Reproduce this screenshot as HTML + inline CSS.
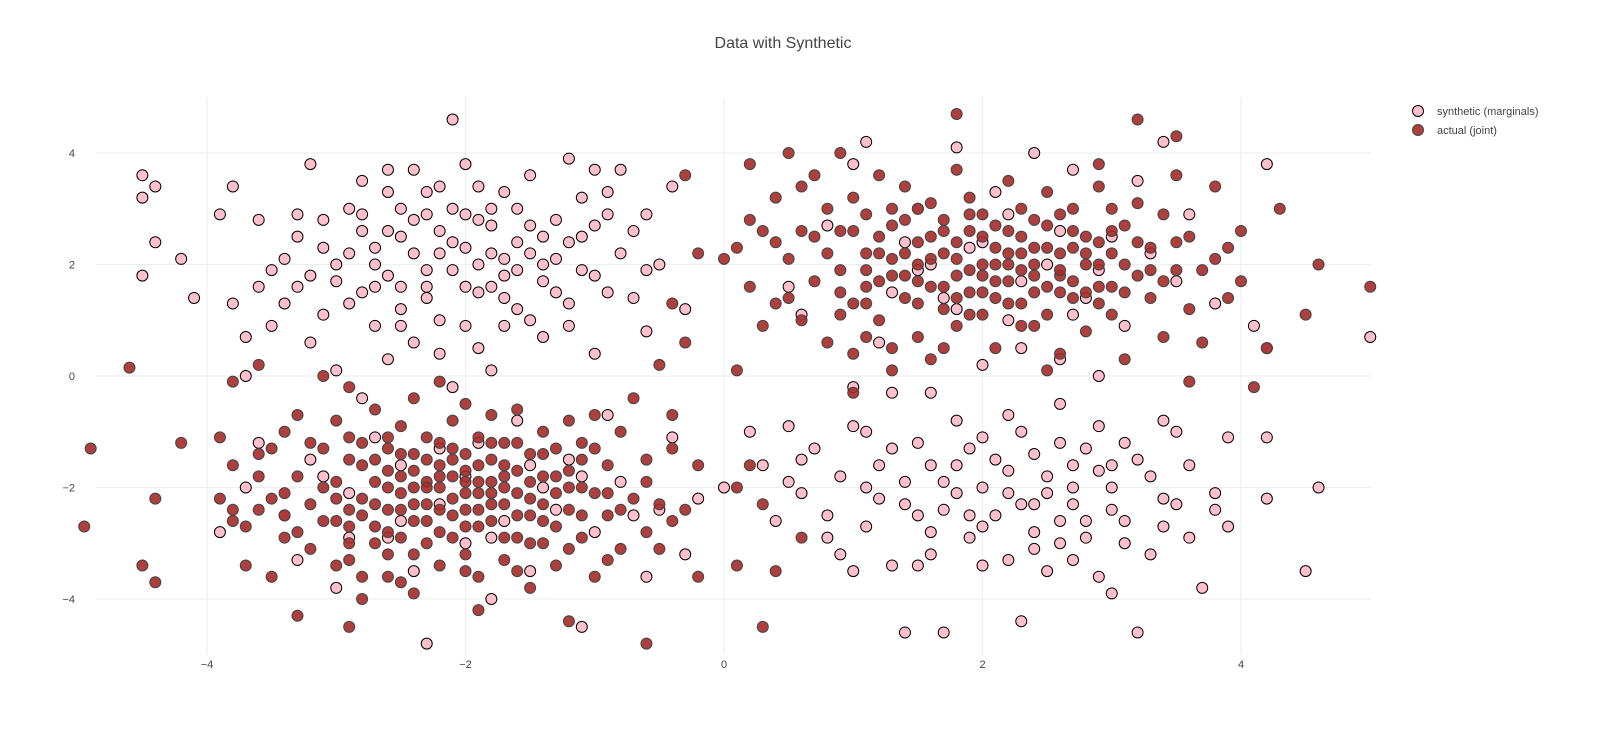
<!DOCTYPE html>
<html><head><meta charset="utf-8"><style>
body{margin:0;background:#fff;font-family:"Liberation Sans",sans-serif;}
svg{display:block}
</style></head><body>
<svg id="chart" width="1620" height="756">
<text x="783" y="48" text-anchor="middle" font-size="16" fill="#444">Data with Synthetic</text>
<g id="grid"></g>
<g id="syn"></g>
<g id="act"></g>
<g>
<g><circle cx="1418" cy="111" r="5.5" fill="#ffc0cb" stroke="#000" stroke-width="1"/><text x="1437" y="115" font-size="11" fill="#444">synthetic (marginals)</text></g>
<g><circle cx="1418" cy="130" r="5.5" fill="#a52a2a" fill-opacity="0.9" stroke="#444" stroke-width="1"/><text x="1437" y="134" font-size="11" fill="#444">actual (joint)</text></g>
</g>
</svg>
<script>
const xTicks=[-4,-2,0,2,4];
const yTicks=[-4,-2,0,2,4];
const synPts=[[-4.5,3.6],[-4.5,3.2],[-4.4,3.4],[-4.5,1.8],[-4.4,2.4],[-4.2,2.1],[-4.1,1.4],[-3.9,2.9],[-3.8,3.4],[-3.8,1.3],[-3.7,0.7],[-3.7,0.0],[-3.5,1.9],[-3.4,1.3],[-3.3,2.9],[-3.2,3.8],[-3.1,2.3],[-3.0,1.7],[-2.9,3.0],[-2.8,2.6],[-2.8,1.5],[-2.7,0.9],[-2.6,3.3],[-2.5,2.5],[-2.5,1.6],[-2.4,3.7],[-2.3,2.9],[-2.3,1.9],[-2.2,3.4],[-2.2,1.0],[-2.1,4.6],[-2.1,2.4],[-2.0,3.8],[-2.0,1.6],[-1.9,2.8],[-1.9,0.5],[-1.8,2.2],[-1.7,3.3],[-1.6,1.2],[-1.5,2.7],[-1.5,3.6],[-1.4,2.0],[-1.3,1.5],[-1.2,3.9],[-1.1,2.5],[-1.0,1.8],[-0.9,3.3],[-0.8,2.2],[-0.7,1.4],[-0.6,0.8],[-0.5,2.0],[-0.4,3.4],[-0.3,1.2],[-2.6,0.3],[-3.0,0.1],[-1.8,0.1],[-1.4,0.7],[-2.4,0.6],[-3.5,0.9],[-1.0,0.4],[-2.2,2.2],[-2.7,2.0],[-1.6,2.4],[-2.0,2.9],[-3.2,1.8],[-2.9,2.2],[-1.9,1.5],[-2.5,3.0],[-1.3,2.8],[-3.6,2.8],[-1.1,3.2],[-2.3,1.4],[-0.8,3.7],[-3.3,2.5],[-1.7,1.8],[-0.9,2.9],[-2.8,3.5],[-1.5,1.0],[-2.0,0.9],[-3.1,1.1],
[-3.4,2.1],[-3.3,1.6],[-3.1,2.8],[-3.0,2.0],[-2.9,1.3],[-2.8,2.9],[-2.7,2.3],[-2.6,1.8],[-2.6,2.6],[-2.5,1.2],[-2.4,2.2],[-2.4,2.8],[-2.3,1.6],[-2.3,3.3],[-2.2,2.6],[-2.1,1.9],[-2.1,3.0],[-2.0,2.3],[-1.9,2.0],[-1.9,3.4],[-1.8,1.6],[-1.8,2.7],[-1.7,2.1],[-1.7,1.4],[-1.6,3.0],[-1.6,1.9],[-1.5,2.2],[-1.4,1.7],[-1.4,2.5],[-1.3,2.1],[-1.2,1.3],[-1.2,2.4],[-1.1,1.9],[-1.0,2.7],[-0.9,1.5],[-0.7,2.6],[-0.6,1.9],[-2.7,1.6],[-3.6,1.6],[-2.2,0.4],[-1.7,0.9],[-1.2,0.9],[-2.5,0.9],[-3.2,0.6],[-0.6,2.9],[-1.0,3.7],[-2.6,3.7],[-1.8,3.0],
[0.2,-1.0],[0.3,-1.6],[0.4,-2.6],[0.5,-0.9],[0.6,-2.1],[0.7,-1.3],[0.8,-2.9],[0.9,-1.8],[1.0,-0.9],[1.1,-2.7],[1.2,-1.6],[1.3,-3.4],[1.4,-2.3],[1.5,-1.2],[1.6,-2.8],[1.7,-4.6],[1.7,-1.9],[1.8,-0.8],[1.9,-2.5],[2.0,-3.4],[2.1,-1.5],[2.2,-2.1],[2.3,-4.4],[2.3,-1.0],[2.4,-2.8],[2.5,-1.8],[2.6,-3.0],[2.7,-2.3],[2.8,-1.3],[2.9,-3.6],[3.0,-2.0],[3.1,-2.6],[3.2,-4.6],[3.2,-1.5],[3.3,-3.2],[3.4,-2.2],[3.5,-1.0],[3.6,-2.9],[3.7,-3.8],[3.8,-2.1],[3.9,-1.1],[4.2,-2.2],[4.5,-3.5],[4.6,-2.0],[3.9,-2.7],[1.4,-4.6],[1.5,-3.4],[0.9,-3.2],[2.0,-2.7],[2.2,-0.7],[2.6,-0.5],[1.9,-1.3],[2.9,-0.9],[1.2,-2.2],[3.0,-1.6],[1.6,-1.6],[2.4,-2.3],[2.7,-1.6],[1.8,-2.1],[3.4,-0.8],[2.5,-3.5],[0.6,-1.5],[1.1,-1.0],[2.8,-2.6],
[1.4,-1.9],[1.5,-2.5],[1.7,-2.4],[1.8,-1.6],[1.9,-2.9],[2.0,-2.0],[2.1,-2.5],[2.2,-1.7],[2.3,-2.3],[2.4,-1.4],[2.4,-3.1],[2.5,-2.1],[2.6,-1.2],[2.6,-2.6],[2.7,-2.0],[2.8,-2.9],[2.9,-1.7],[3.0,-2.4],[3.1,-1.2],[3.1,-3.0],[3.3,-1.8],[3.4,-2.7],[3.5,-2.3],[3.6,-1.6],[1.1,-2.0],[0.8,-2.5],[1.3,-1.3],[2.0,-1.1],[2.7,-3.3],[3.0,-3.9],[1.6,-3.2],[2.2,-3.3],[3.8,-2.4],[4.2,-1.1],[0.5,-1.9],[1.0,-3.5]];
const synPts2=[[-3.9,-2.8],[-3.7,-2.0],[-3.6,-1.2],[-3.4,-2.5],[-3.2,-1.5],[-3.0,-3.8],[-2.9,-2.1],[-2.8,-0.4],[-2.6,-2.9],[-2.5,-1.6],[-2.3,-4.8],[-2.2,-2.3],[-2.1,-0.2],[-2.0,-3.0],[-1.9,-1.2],[-1.7,-2.6],[-1.6,-0.8],[-1.5,-3.5],[-1.4,-2.0],[-1.2,-1.5],[-1.1,-4.5],[-1.0,-2.8],[-0.9,-0.7],[-0.8,-1.9],[-0.6,-3.6],[-0.5,-2.4],[-0.4,-1.1],[-0.3,-3.2],[-0.2,-2.2],[0.0,-2.0],[-2.4,-3.5],[-1.8,-4.0],[-3.3,-3.3],[-2.7,-1.1],[-2.5,-2.6],[-2.0,-1.8],[-1.8,-2.9],[-1.5,-1.6],[-1.3,-2.4],[-2.9,-2.9],[-3.1,-1.8],[-2.2,-1.3],[-1.1,-1.8],[-0.7,-2.5],
[0.5,1.6],[0.6,1.1],[0.8,2.7],[1.0,3.8],[1.1,4.2],[1.2,0.6],[1.4,2.4],[1.5,3.0],[1.7,1.4],[1.8,4.1],[1.9,2.3],[2.0,0.2],[2.1,3.3],[2.2,1.0],[2.4,4.0],[2.5,2.0],[2.6,0.3],[2.7,3.7],[2.8,1.4],[3.0,2.5],[3.1,0.9],[3.2,3.5],[3.4,4.2],[3.5,1.7],[3.6,2.9],[3.8,1.3],[4.1,0.9],[4.2,0.5],[4.2,3.8],[5.0,0.7],[1.3,-0.3],[1.6,-0.3],[2.3,0.5],[2.9,0.0],[1.0,-0.2],[1.5,1.9],[1.8,1.2],[2.0,2.4],[2.3,1.7],[2.6,2.6],[2.9,1.9],[1.6,2.0],[2.2,2.9],[1.3,1.5],[3.3,2.2],[2.7,1.1]];
const actPts=[[-4.9,-1.3],[-4.95,-2.7],[-4.6,0.15],[-4.5,-3.4],[-4.4,-3.7],[-4.4,-2.2],[-4.2,-1.2],[-3.8,-0.1],[-3.6,0.2],[-3.3,-4.3],[-2.8,-4.0],[-2.9,-4.5],[-1.9,-4.2],[-1.2,-4.4],[-0.6,-4.8],[0.3,-4.5],[0.1,-3.4],[0.4,-3.5],[-0.2,-1.6],[0.1,0.1],[-0.5,0.2],[-0.4,1.3],[-0.3,0.6],[4.1,-0.2],[4.2,0.5],[4.5,1.1],[4.6,2.0],[5.0,1.6],[4.3,3.0],[4.0,1.7],[3.6,-0.1],[0.9,4.0],[1.8,4.7],[3.2,4.6],[3.5,4.3],[0.5,4.0],[0.2,2.8],[0.0,2.1],[-0.2,2.2],[-0.3,3.6],
[-3.9,-1.1],[-3.8,-1.6],[-3.8,-2.4],[-3.7,-2.7],[-3.6,-1.4],[-3.5,-3.6],[-3.5,-2.2],[-3.4,-1.0],[-3.4,-2.9],[-3.3,-1.8],[-3.3,-0.7],[-3.2,-2.3],[-3.2,-3.1],[-3.1,-1.3],[-3.1,-2.6],[-3.0,-0.8],[-3.0,-1.9],[-3.0,-3.4],[-2.9,-2.4],[-2.9,-1.1],[-2.9,-3.0],[-2.8,-1.6],[-2.8,-2.2],[-2.8,-3.6],[-2.7,-0.6],[-2.7,-1.9],[-2.7,-2.7],[-2.6,-1.3],[-2.6,-2.4],[-2.6,-3.2],[-2.5,-0.9],[-2.5,-1.8],[-2.5,-2.1],[-2.5,-3.7],[-2.4,-1.4],[-2.4,-2.6],[-2.4,-0.4],[-2.3,-1.9],[-2.3,-2.3],[-2.3,-3.0],[-2.3,-1.1],[-2.2,-1.6],[-2.2,-2.0],[-2.2,-2.8],[-2.2,-3.4],[-2.1,-0.8],[-2.1,-1.3],[-2.1,-2.2],[-2.1,-2.5],[-2.0,-1.7],[-2.0,-1.9],[-2.0,-2.4],[-2.0,-3.2],[-2.0,-0.5],[-1.9,-1.1],[-1.9,-2.1],[-1.9,-2.7],[-1.9,-3.6],[-1.8,-1.5],[-1.8,-1.9],[-1.8,-2.3],[-1.8,-0.7],[-1.7,-1.2],[-1.7,-2.0],[-1.7,-2.9],[-1.7,-3.3],[-1.6,-1.7],[-1.6,-2.5],[-1.6,-0.6],[-1.5,-1.4],[-1.5,-2.2],[-1.5,-3.0],[-1.5,-3.8],[-1.4,-1.0],[-1.4,-1.8],[-1.4,-2.6],[-1.3,-2.1],[-1.3,-1.3],[-1.3,-3.4],[-1.2,-0.8],[-1.2,-2.4],[-1.2,-1.7],[-1.1,-2.9],[-1.1,-1.2],[-1.0,-2.1],[-1.0,-3.6],[-1.0,-0.7],[-0.9,-1.6],[-0.9,-2.5],[-0.8,-1.0],[-0.8,-3.1],[-0.7,-2.2],[-0.7,-0.4],[-0.6,-1.5],[-0.6,-2.8],[-0.5,-2.3],[-0.4,-0.7],[-0.4,-1.3],[-0.3,-2.4],[-0.2,-3.6],[-2.6,-1.1],[-2.4,-2.0],[-2.1,-1.5],[-1.9,-2.4],[-2.7,-2.3],[-3.6,-2.4],[-3.8,-2.6],[-2.9,-0.2],[-3.1,0.0],[-2.2,-0.1],[-1.6,-3.5],[-2.4,-3.9],[-3.7,-3.4],[-3.9,-2.2],[-2.0,-2.1],[-1.8,-2.1],[-2.2,-1.8],[-2.3,-2.6],[-1.7,-1.6],[-2.5,-2.4],[-1.4,-2.3],[-1.1,-2.0],[-2.6,-1.7],[-3.0,-2.2],[-2.9,-2.7],[-1.6,-1.2]];
const actPtsUR=[[0.1,2.3],[0.2,1.6],[0.2,3.8],[0.3,0.9],[0.3,2.6],[0.4,1.3],[0.4,3.2],[0.5,2.1],[0.6,1.0],[0.6,3.4],[0.7,2.5],[0.7,1.7],[0.8,0.6],[0.8,3.0],[0.9,1.9],[0.9,2.6],[1.0,1.3],[1.0,3.2],[1.0,0.4],[1.1,2.2],[1.1,1.6],[1.1,2.9],[1.2,1.0],[1.2,2.5],[1.2,3.6],[1.3,1.8],[1.3,0.1],[1.3,2.1],[1.4,1.4],[1.4,2.8],[1.4,3.4],[1.5,0.7],[1.5,2.0],[1.5,2.4],[1.6,1.6],[1.6,3.1],[1.6,0.3],[1.7,1.2],[1.7,2.2],[1.7,2.8],[1.8,1.8],[1.8,3.7],[1.8,0.9],[1.9,1.5],[1.9,2.6],[1.9,3.2],[2.0,2.0],[2.0,1.1],[2.0,2.9],[2.1,1.7],[2.1,2.3],[2.1,0.5],[2.2,1.3],[2.2,2.6],[2.2,3.5],[2.3,1.9],[2.3,0.9],[2.3,3.0],[2.4,1.5],[2.4,2.3],[2.5,1.1],[2.5,2.7],[2.5,3.3],[2.6,1.8],[2.6,0.4],[2.6,2.2],[2.7,1.4],[2.7,3.0],[2.8,2.0],[2.8,0.8],[2.8,2.5],[2.9,1.6],[2.9,3.4],[3.0,2.2],[3.0,1.1],[3.1,2.7],[3.1,0.3],[3.2,1.8],[3.2,3.1],[3.3,1.4],[3.3,2.3],[3.4,0.7],[3.4,2.9],[3.5,1.9],[3.5,3.6],[3.6,1.2],[3.6,2.5],[3.7,0.6],[3.8,2.1],[3.8,3.4],[3.9,1.4],[4.0,2.6],[1.5,1.7],[1.8,2.1],[2.1,2.0],[2.4,1.8],[2.7,2.3],[1.2,1.7],[1.9,1.9],[2.2,2.2],[2.6,1.5],[2.9,2.4],[3.1,2.0],[1.6,2.5],[2.0,1.5],[2.3,2.5],[1.1,1.9],[0.9,1.1],[1.3,0.5],[2.5,0.1],[1.0,-0.3],[0.2,-1.6],[0.6,-2.9],[0.1,-2.0],[0.3,-2.3]];
const actPts2=[[-3.5,-1.3],[-3.4,-2.1],[-3.3,-2.8],[-3.2,-1.2],[-3.1,-2.0],[-3.0,-2.6],[-2.9,-1.5],[-2.9,-3.3],[-2.8,-1.2],[-2.8,-2.5],[-2.7,-1.5],[-2.7,-3.0],[-2.6,-2.0],[-2.6,-2.8],[-2.5,-1.4],[-2.5,-2.9],[-2.4,-1.7],[-2.4,-2.3],[-2.4,-3.2],[-2.3,-1.5],[-2.3,-2.0],[-2.2,-1.2],[-2.2,-2.4],[-2.1,-1.8],[-2.1,-2.9],[-2.0,-1.4],[-2.0,-2.7],[-1.9,-1.6],[-1.9,-1.9],[-1.8,-1.2],[-1.8,-2.6],[-1.7,-1.8],[-1.7,-2.3],[-1.6,-2.1],[-1.6,-2.9],[-1.5,-1.9],[-1.5,-2.5],[-1.4,-1.4],[-1.4,-3.0],[-1.3,-1.8],[-1.3,-2.7],[-1.2,-2.0],[-1.1,-1.5],[-1.1,-2.5],[-1.0,-1.3],[-0.9,-2.1],[-0.8,-2.4],[-0.6,-1.9],[-0.5,-3.1],[-0.9,-3.3],[-2.0,-3.5],[-2.6,-3.6],[-3.4,-2.5],[-3.6,-1.8],[-1.2,-3.1],[-0.4,-2.6],
[0.4,2.4],[0.5,1.4],[0.6,2.6],[0.8,2.2],[0.9,1.5],[1.0,2.6],[1.1,1.3],[1.2,2.2],[1.3,2.7],[1.4,1.8],[1.4,2.2],[1.5,1.3],[1.5,3.0],[1.6,2.1],[1.7,1.6],[1.7,2.6],[1.8,1.4],[1.8,2.4],[1.9,1.1],[1.9,2.9],[2.0,1.8],[2.0,2.5],[2.1,1.4],[2.1,2.7],[2.2,1.7],[2.2,2.0],[2.3,1.3],[2.3,2.2],[2.4,2.0],[2.4,2.8],[2.5,1.6],[2.5,2.3],[2.6,1.9],[2.6,2.9],[2.7,1.7],[2.7,2.6],[2.8,1.5],[2.8,2.2],[2.9,2.0],[2.9,1.3],[3.0,2.6],[3.0,1.6],[3.1,1.5],[3.2,2.4],[3.3,1.9],[3.4,1.7],[3.5,2.4],[3.7,1.9],[1.1,0.7],[1.7,0.5],[2.4,0.9],[3.0,3.0],[1.3,3.0],[0.7,3.6],[2.9,3.8],[3.9,2.3]];
const NS='http://www.w3.org/2000/svg';
const X0=96,X1=1371,Y0=97,Y1=655;
function sx(v){return 724+v*129.25;}
function sy(v){return 376-v*55.75;}
const grid=document.getElementById('grid');
xTicks.forEach(t=>{
 const l=document.createElementNS(NS,'line');
 l.setAttribute('x1',sx(t));l.setAttribute('x2',sx(t));l.setAttribute('y1',Y0);l.setAttribute('y2',Y1);
 l.setAttribute('stroke','#eee');
 
 
 grid.appendChild(l);
 const tx=document.createElementNS(NS,'text');
 tx.setAttribute('x',sx(t));tx.setAttribute('y',668);tx.setAttribute('text-anchor','middle');
 tx.setAttribute('font-size','11');tx.setAttribute('fill','#444');
 tx.textContent=t<0?'\u2212'+(-t):String(t);
 
 
 grid.appendChild(tx);
});
yTicks.forEach(t=>{
 const l=document.createElementNS(NS,'line');
 l.setAttribute('x1',X0);l.setAttribute('x2',X1);l.setAttribute('y1',sy(t));l.setAttribute('y2',sy(t));
 l.setAttribute('stroke','#eee');
 
 
 grid.appendChild(l);
 const tx=document.createElementNS(NS,'text');
 tx.setAttribute('x',75);tx.setAttribute('y',sy(t)+4);tx.setAttribute('text-anchor','end');
 tx.setAttribute('font-size','11');tx.setAttribute('fill','#444');
 tx.textContent=t<0?'\u2212'+(-t):String(t);
 
 
 grid.appendChild(tx);
});
function draw(gid,pts,fill,stroke,op,name){
 const g=document.getElementById(gid);
 pts.forEach(p=>{
  const c=document.createElementNS(NS,'circle');
  c.setAttribute('cx',sx(p[0]));c.setAttribute('cy',sy(p[1]));c.setAttribute('r',5.5);
  c.setAttribute('fill',fill);c.setAttribute('fill-opacity',op);c.setAttribute('stroke',stroke);c.setAttribute('stroke-width',1);
  
  
  g.appendChild(c);
 });
}
draw('syn',synPts,'#ffc0cb','#000',1,'synthetic-point');
draw('syn',synPts2,'#ffc0cb','#000',1,'synthetic-point');
draw('act',actPts,'#a52a2a','#444',0.9,'actual-point');
draw('act',actPtsUR,'#a52a2a','#444',0.9,'actual-point');
draw('act',actPts2,'#a52a2a','#444',0.9,'actual-point');
</script>
</body></html>
